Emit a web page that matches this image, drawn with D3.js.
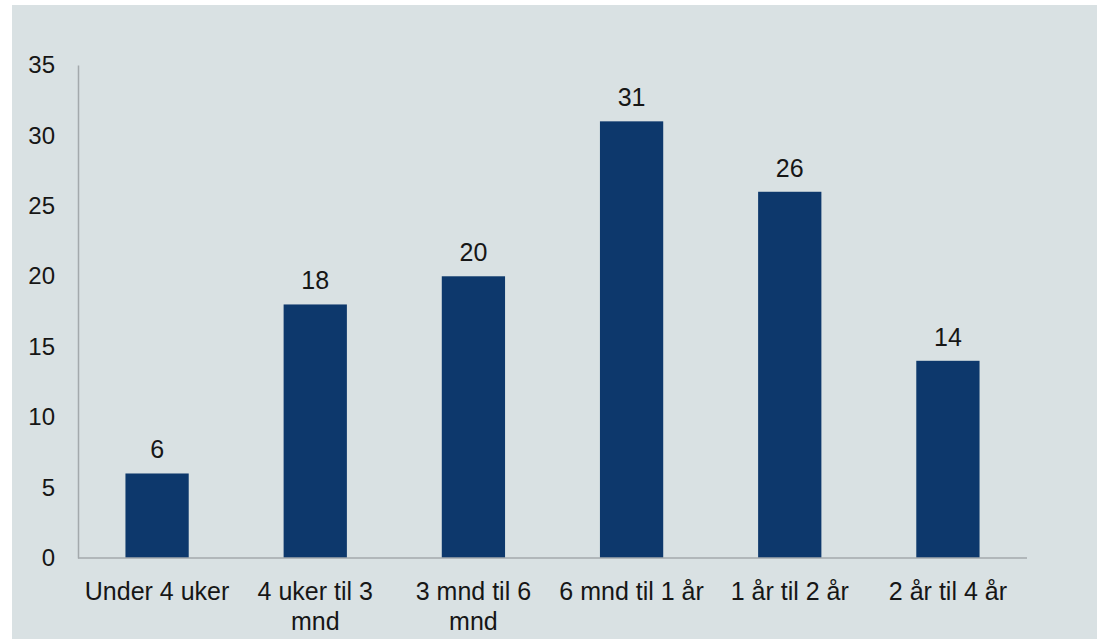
<!DOCTYPE html>
<html>
<head>
<meta charset="utf-8">
<script src="https://cdn.jsdelivr.net/npm/d3@7"></script>
<style>
  body { margin: 0; background: #ffffff; }
  text { font-family: "Liberation Sans", Arial, Helvetica, sans-serif; fill: #161616; }
</style>
</head>
<body>
<script>
// data
var categories = ["Under 4 uker", "4 uker til 3 mnd", "3 mnd til 6 mnd", "6 mnd til 1 år", "1 år til 2 år", "2 år til 4 år"];
var values = [6, 18, 20, 31, 26, 14];
var yTicks = [0, 5, 10, 15, 20, 25, 30, 35];

var width = 1097,
    height = 639;

var plot = {left: 78, right: 1027, top: 65, bottom: 558};

var svg = d3.select("body").append("svg")
    .attr("width", width)
    .attr("height", height);

// light grey-blue panel, thin white strip top/left like the source
svg.append("rect")
    .attr("x", 12)
    .attr("y", 5)
    .attr("width", width - 12)
    .attr("height", height - 5)
    .attr("fill", "#d9e1e3");

var x = d3.scaleBand()
    .domain(categories)
    .range([plot.left, plot.right])
    .paddingInner(0.6)
    .paddingOuter(0.3);

var y = d3.scaleLinear()
    .domain([0, 35])
    .range([plot.bottom, plot.top]);

// y axis: labels only, plus a plain grey line
var yAxis = svg.append("g")
    .attr("transform", "translate(" + plot.left + ",0)")
    .call(d3.axisLeft(y).tickValues(yTicks).tickSize(0).tickPadding(23));
yAxis.select(".domain").attr("stroke", "#a3a9ac").attr("stroke-width", 1.5);
yAxis.selectAll("text")
    .style("font-size", "24px")
    .attr("fill", "#161616");

// bars
svg.selectAll("rect.bar")
    .data(values)
    .enter()
    .append("rect")
    .attr("class", "bar")
    .attr("x", function(d, i) { return x(categories[i]); })
    .attr("y", function(d) { return y(d); })
    .attr("width", x.bandwidth())
    .attr("height", function(d) { return y(0) - y(d); })
    .attr("fill", "#0d386c");

// baseline
svg.append("line")
    .attr("x1", plot.left)
    .attr("x2", plot.right)
    .attr("y1", y(0))
    .attr("y2", y(0))
    .attr("stroke", "#a3a9ac")
    .attr("stroke-width", 1.5);

// value labels
svg.selectAll("text.val")
    .data(values)
    .enter()
    .append("text")
    .attr("class", "val")
    .attr("x", function(d, i) { return x(categories[i]) + x.bandwidth() / 2; })
    .attr("y", function(d) { return y(d) - 15; })
    .attr("text-anchor", "middle")
    .style("font-size", "25px")
    .text(function(d) { return d; });

// category labels, wrapped to the band width
var xAxis = svg.append("g")
    .attr("transform", "translate(0," + plot.bottom + ")")
    .call(d3.axisBottom(x).tickSize(0).tickPadding(0));
xAxis.select(".domain").remove();
xAxis.selectAll("text")
    .style("font-size", "25px")
    .attr("fill", "#161616")
    .attr("y", 42)
    .attr("dy", 0)
    .call(wrap, 155);

function wrap(sel, maxW) {
  sel.each(function() {
    var text = d3.select(this),
        words = text.text().split(/\s+/),
        line = [],
        lineNo = 0,
        ty = text.attr("y");
    text.text(null);
    var tspan = text.append("tspan").attr("x", 0).attr("y", ty).attr("dy", 0);
    words.forEach(function(w) {
      line.push(w);
      tspan.text(line.join(" "));
      if (tspan.node().getComputedTextLength() > maxW && line.length > 1) {
        line.pop();
        tspan.text(line.join(" "));
        line = [w];
        lineNo++;
        tspan = text.append("tspan").attr("x", 0).attr("y", ty)
            .attr("dy", (lineNo * 30) + "px").text(w);
      }
    });
  });
}
</script>
</body>
</html>
